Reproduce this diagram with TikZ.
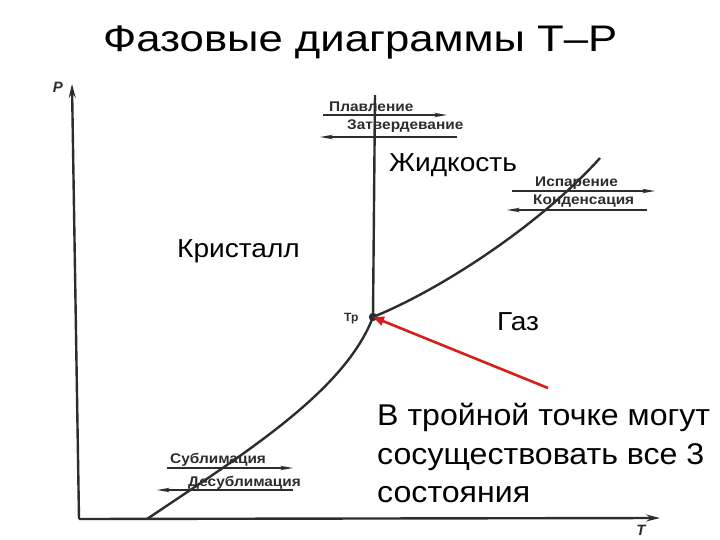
\documentclass[tikz,border=0pt]{standalone}
\usepackage{fontspec}
\setmainfont{Liberation Sans}
\usetikzlibrary{arrows.meta}
\definecolor{ink}{RGB}{45,45,45}
\definecolor{redarrow}{RGB}{215,30,25}
\begin{document}
\begin{tikzpicture}[x=1pt,y=-1pt,
  curveline/.style={draw=ink, line width=2.4pt},
  axisline/.style={draw=ink, line width=2.4pt, -{Stealth[length=14pt,width=7pt,inset=5pt]}},
  procarrow/.style={draw=ink, line width=1.3pt, -{Stealth[length=13pt,width=4.5pt,inset=4pt]}},
  proclabel/.style={font=\fontsize{14}{14}\selectfont\bfseries, text=ink, inner sep=0pt, anchor=base west, xscale=1.1},
  biglabel/.style={font=\fontsize{26}{26}\selectfont, inner sep=0pt, anchor=base west, xscale=1.08},
  textline/.style={font=\fontsize{30}{30}\selectfont, inner sep=0pt, anchor=base west, xscale=1.07},
  axislabel/.style={font=\fontsize{15}{15}\selectfont\bfseries\itshape, text=ink, inner sep=0pt}]
\useasboundingbox (0,0) rectangle (720,540);
\fill[white] (0,0) rectangle (720,540);
% title
\node[font=\fontsize{37}{37}\selectfont, inner sep=0pt, anchor=base west, xscale=1.18] (title) at (103,52) {Фазовые диаграммы Т–Р};
% coordinates
\coordinate (origin) at (79,519);
\coordinate (ptop) at (72,84);
\coordinate (tend) at (660,518);
\coordinate (tp) at (373,317);
\coordinate (meltTop) at (375,95);
\coordinate (sublStart) at (147,519);
\coordinate (vapEnd) at (600,158);
% axes
\draw[axisline] (origin) -- (ptop);
\draw[axisline] (origin) -- (tend);
\node[axislabel] (Plab) at (58,87) {P};
\node[axislabel] (Tlab) at (641,530) {T};
% phase boundaries
\draw[curveline] (sublStart) .. controls (250,450) and (345,390) .. (tp);
\draw[curveline] (tp) .. controls (440,290) and (540,225) .. (vapEnd);
\draw[curveline] (tp) -- (meltTop);
\fill[ink] (tp) circle (4.2);
\node[font=\fontsize{12}{12}\selectfont\bfseries, text=ink, inner sep=0pt, anchor=base west] (tplab) at (344,321) {Тр};
% process arrows
\coordinate (a1s) at (323,115); \coordinate (a1e) at (447,115);
\coordinate (a2s) at (457,137); \coordinate (a2e) at (320,137);
\coordinate (a3s) at (512,191); \coordinate (a3e) at (655,191);
\coordinate (a4s) at (647,210); \coordinate (a4e) at (507,210);
\coordinate (a5s) at (167,468); \coordinate (a5e) at (293,468);
\coordinate (a6s) at (293,490); \coordinate (a6e) at (157,490);
\draw[procarrow] (a1s) -- (a1e);
\draw[procarrow] (a2s) -- (a2e);
\draw[procarrow] (a3s) -- (a3e);
\draw[procarrow] (a4s) -- (a4e);
\draw[procarrow] (a5s) -- (a5e);
\draw[procarrow] (a6s) -- (a6e);
\node[proclabel] (melt) at (329,112) {Плавление};
\node[proclabel] (solid) at (347,130) {Затвердевание};
\node[proclabel] (evap) at (535,187) {Испарение};
\node[proclabel] (cond) at (533,205) {Конденсация};
\node[proclabel] (subl) at (170,463) {Сублимация};
\node[proclabel] (desubl) at (188,486) {Десублимация};
% region labels
\node[biglabel] (liq) at (389,172) {Жидкость};
\node[biglabel] (cryst) at (177,257) {Кристалл};
\node[biglabel] (gas) at (497,330) {Газ};
% note
\node[textline] (n1) at (377,425) {В тройной точке могут};
\node[textline] (n2) at (377,464) {сосуществовать все 3};
\node[textline] (n3) at (377,502) {состояния};
\coordinate (redStart) at (548,388);
\draw[redarrow, line width=2.6pt, -{Triangle[length=11pt,width=9pt]}] (redStart) -- (tp);
\end{tikzpicture}
\end{document}
